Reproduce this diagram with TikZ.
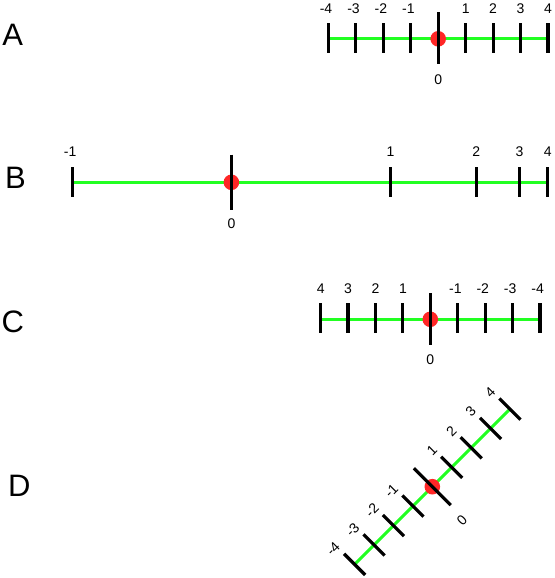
\documentclass[tikz,border=0pt]{standalone}
\usepackage{fontspec}
\setmainfont{Liberation Sans}
\definecolor{linegreen}{RGB}{34,255,34}
\definecolor{dotred}{RGB}{255,38,38}
\begin{document}
\begin{tikzpicture}[x=1pt,y=-1pt,
  axisline/.style={linegreen, line width=3pt},
  tickmark/.style={black, line width=3.2pt},
  zerodot/.style={circle, fill=dotred, draw=none, inner sep=0pt, minimum size=15.6pt},
  numlabel/.style={font=\fontsize{14}{14}\selectfont, inner sep=0pt},
  rowletter/.style={font=\fontsize{31}{31}\selectfont, inner sep=0pt}]
\useasboundingbox (0,0) rectangle (554,578);

% row letters
\node[rowletter] (LA) at (12.7,35.3) {A};
\node[rowletter] (LB) at (15.5,177.5) {B};
\node[rowletter] (LC) at (12.8,321.7) {C};
\node[rowletter] (LD) at (19.3,485.7) {D};

% ---------- A ----------
\begin{scope}[shift={(438.2,38.8)}]
  \coordinate (aS) at (-109.84,0);
  \coordinate (aE) at (109.84,0);
  \draw[axisline] (aS) -- (aE);
  \node[zerodot] (adot) at (0,0) {};
  \foreach \k in {-4,-3,-2,-1,1,2,3,4}{
    \draw[tickmark] (\k*27.46,-15.5) -- (\k*27.46,14.5);
  }
  \draw[tickmark] (0,-26.5) -- (0,25);
  \foreach \k in {-4,-3,-2,-1}{
    \node[numlabel] (an\k) at (\k*27.46,-30.5) {\llap{-}\the\numexpr-\k\relax};
  }
  \foreach \k in {1,2,3,4}{
    \node[numlabel] (ap\k) at (\k*27.46,-30.5) {\k};
  }
  \node[numlabel] (a0) at (0,41) {0};
\end{scope}

% ---------- B ----------
\begin{scope}[shift={(0,182.3)}]
  \coordinate (bS) at (72.4,0);
  \coordinate (bE) at (547.7,0);
  \draw[axisline] (bS) -- (bE);
  \node[zerodot] (bdot) at (231.4,0) {};
  \foreach \x in {72.4,390.5,476.3,519.4,547.7}{
    \draw[tickmark] (\x,-15.3) -- (\x,14.7);
  }
  \draw[tickmark] (231.4,-27.6) -- (231.4,27.2);
  \node[numlabel] (bm1) at (72.4,-31) {\llap{-}1};
  \node[numlabel] (bp1) at (390.5,-31) {1};
  \node[numlabel] (bp2) at (476.3,-31) {2};
  \node[numlabel] (bp3) at (519.4,-31) {3};
  \node[numlabel] (bp4) at (547.7,-31) {4};
  \node[numlabel] (b0) at (231.4,41) {0};
\end{scope}

% ---------- C ----------
\begin{scope}[shift={(430.3,319.3)}]
  \coordinate (cS) at (-109.64,0);
  \coordinate (cE) at (109.64,0);
  \draw[axisline] (cS) -- (cE);
  \node[zerodot] (cdot) at (0,0) {};
  \foreach \k in {-4,-3,-2,-1,1,2,3,4}{
    \draw[tickmark] (\k*27.41,-16) -- (\k*27.41,14);
  }
  \draw[tickmark] (0,-26) -- (0,25.7);
  \foreach \k in {-4,-3,-2,-1}{
    \node[numlabel] (cp\the\numexpr-\k\relax) at (\k*27.41,-30.3) {\the\numexpr-\k\relax};
  }
  \foreach \k in {1,2,3,4}{
    \node[numlabel] (cn\k) at (\k*27.41,-30.3) {\llap{-}\k};
  }
  \node[numlabel] (c0) at (0,40) {0};
\end{scope}

% ---------- D ----------
\begin{scope}[shift={(432.3,486.7)}, rotate=45, transform shape]
  \coordinate (dS) at (-109.84,0);
  \coordinate (dE) at (109.84,0);
  \draw[axisline] (dS) -- (dE);
  \node[zerodot] (ddot) at (0,0) {};
  \foreach \k in {-4,-3,-2,-1,1,2,3,4}{
    \draw[tickmark] (\k*27.46,-15) -- (\k*27.46,15);
  }
  \draw[tickmark] (0,-26) -- (0,26);
  \foreach \k in {-4,-3,-2,-1}{
    \node[numlabel] (dn\k) at (\k*27.46-2,-26) {\llap{-}\the\numexpr-\k\relax};
  }
  \foreach \k in {1,2,3,4}{
    \node[numlabel] (dp\k) at (\k*27.46-2,-26) {\k};
  }
  \node[numlabel] (d0) at (-3,45) {0};
\end{scope}
\end{tikzpicture}
\end{document}
